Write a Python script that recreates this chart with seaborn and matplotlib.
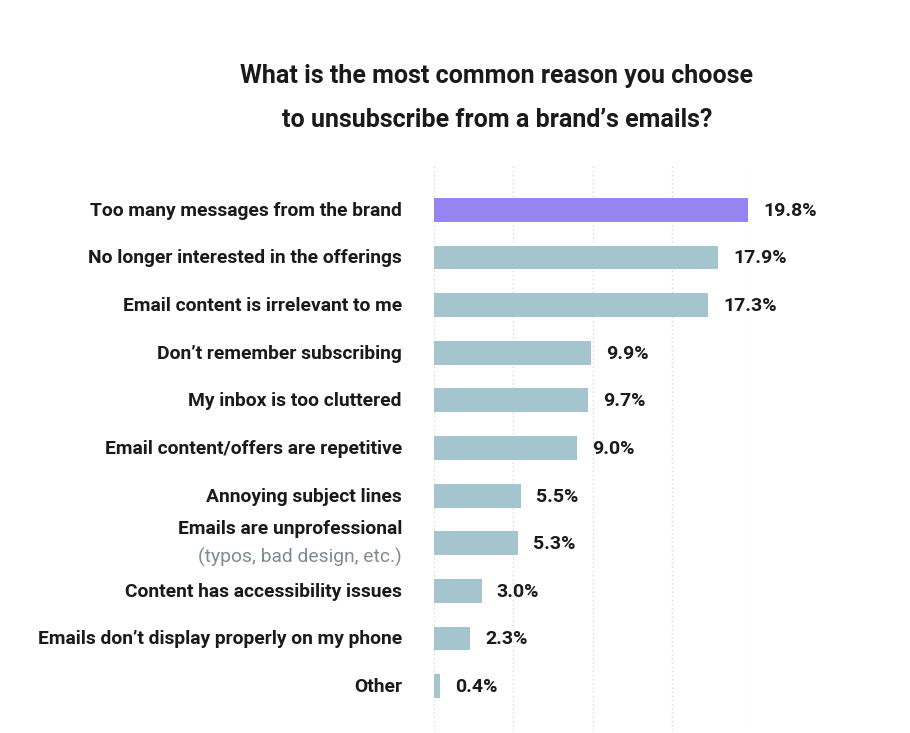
import matplotlib
matplotlib.use("Agg")
import matplotlib.pyplot as plt
import matplotlib.transforms as mtransforms
import seaborn as sns
import pandas as pd

categories = [
    "Too many messages from the brand",
    "No longer interested in the offerings",
    "Email content is irrelevant to me",
    "Don\u2019t remember subscribing",
    "My inbox is too cluttered",
    "Email content/offers are repetitive",
    "Annoying subject lines",
    "Emails are unprofessional",
    "Content has accessibility issues",
    "Emails don\u2019t display properly on my phone",
    "Other",
]
subnotes = {"Emails are unprofessional": "(typos, bad design, etc.)"}
values = [19.8, 17.9, 17.3, 9.9, 9.7, 9.0, 5.5, 5.3, 3.0, 2.3, 0.4]
highlight = "Too many messages from the brand"
title = "What is the most common reason you choose\nto unsubscribe from a brand\u2019s emails?"

sns.set_style("white")
plt.rcParams['font.family'] = ['Roboto', 'DejaVu Sans']

df = pd.DataFrame({"reason": categories, "pct": values})
palette = {c: ("#9684F1" if c == highlight else "#A4C4CE") for c in categories}

fig = plt.figure(figsize=(9.1, 7.33), dpi=100)
ax = fig.add_axes([434/910, 1-730/733, (751-434)/910, (730-166)/733])

sns.barplot(data=df, y="reason", x="pct", hue="reason", palette=palette,
            order=categories, width=0.5, legend=False, ax=ax, saturation=1,
            linewidth=0)

ax.set_xlim(0, 20)
ax.set_ylim(len(categories) - 1 + 0.92, -0.92)
ax.set_xticks([0, 5, 10, 15, 20])
ax.grid(axis="x", linestyle=(0, (1, 2)), color="#d8d8d8", linewidth=1)
ax.set_axisbelow(True)
for s in ax.spines.values():
    s.set_visible(False)
ax.set_xlabel("")
ax.set_ylabel("")
ax.set_xticklabels([])
ax.set_yticklabels([])
ax.tick_params(length=0)

fs = 13.9
trans = mtransforms.blended_transform_factory(ax.transAxes, ax.transData)
xoff = -32 / (751 - 434)
for i, (c, v) in enumerate(zip(categories, values)):
    if c in subnotes:
        ax.text(xoff, i - 0.3, c, transform=trans, ha="right", va="center",
                fontsize=fs, fontweight="bold", color="#1a1a1a")
        ax.text(xoff, i + 0.29, subnotes[c], transform=trans, ha="right", va="center",
                fontsize=fs, color="#7f8a93")
    else:
        ax.text(xoff, i + 0.02, c, transform=trans, ha="right", va="center",
                fontsize=fs, fontweight="bold", color="#1a1a1a")
    ax.annotate(f"{v:.1f}%", xy=(v, i + 0.02), xytext=(11, 0), textcoords="offset points",
                ha="left", va="center", fontsize=14, fontweight="bold",
                color="#1a1a1a", annotation_clip=False)

fig.text(497/910, 1 - 98/733, title, ha="center", va="center", fontsize=18,
         fontweight="bold", color="#1a1a1a", linespacing=2.05)

fig.savefig("out.png", dpi=100, facecolor="white")
